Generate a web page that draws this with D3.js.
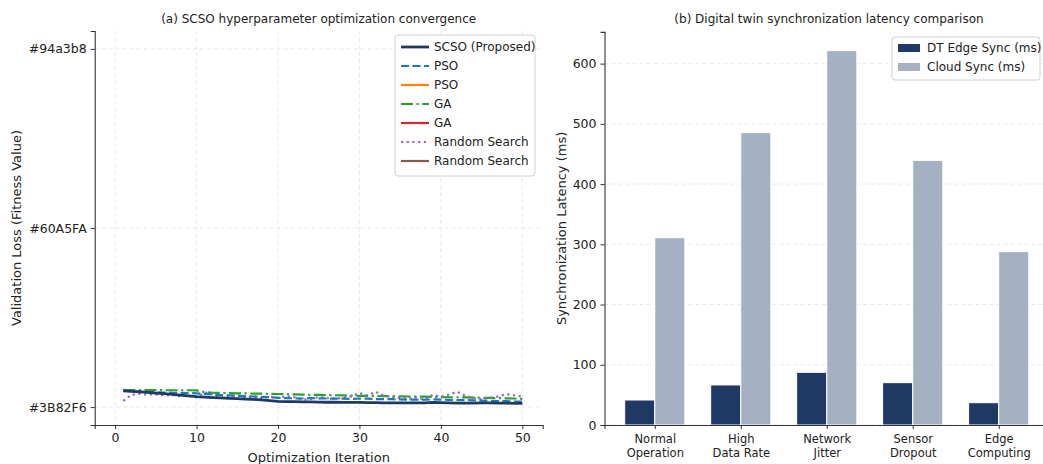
<!DOCTYPE html>
<html>
<head>
<meta charset="utf-8">
<script src="https://cdn.jsdelivr.net/npm/d3@7/dist/d3.min.js"></script>
<style>
  body { margin: 0; background: #fff; }
  svg text { font-family: "DejaVu Sans", sans-serif; fill: #222; }
</style>
</head>
<body>
<div id="chart"></div>
<script>
// DATA ---------------------------------------------------------------
const iterations = d3.range(1, 51);
const yCategoryLabels = ["#3B82F6", "#60A5FA", "#94a3b8"];

const scsoLoss = [0.091, 0.088, 0.085, 0.082, 0.078, 0.075, 0.071, 0.067, 0.063, 0.058,
                  0.056, 0.053, 0.051, 0.049, 0.047, 0.045, 0.043, 0.040, 0.036, 0.032,
                  0.031, 0.030, 0.029, 0.029, 0.028, 0.027, 0.027, 0.026, 0.026, 0.026,
                  0.025, 0.025, 0.024, 0.024, 0.024, 0.023, 0.023, 0.023, 0.026, 0.025,
                  0.024, 0.022, 0.022, 0.022, 0.024, 0.023, 0.022, 0.022, 0.021, 0.021];
const psoLoss = [0.092, 0.089, 0.087, 0.085, 0.083, 0.081, 0.080, 0.079, 0.078, 0.077,
                 0.074, 0.070, 0.067, 0.065, 0.063, 0.061, 0.059, 0.057, 0.055, 0.052,
                 0.050, 0.049, 0.048, 0.050, 0.049, 0.048, 0.047, 0.047, 0.046, 0.048,
                 0.047, 0.045, 0.044, 0.044, 0.043, 0.042, 0.042, 0.041, 0.043, 0.042,
                 0.040, 0.039, 0.039, 0.037, 0.036, 0.035, 0.034, 0.033, 0.031, 0.030];
const gaLoss = [0.095, 0.095, 0.095, 0.095, 0.095, 0.094, 0.094, 0.094, 0.094, 0.093,
                0.084, 0.080, 0.079, 0.078, 0.077, 0.077, 0.075, 0.075, 0.074, 0.073,
                0.072, 0.071, 0.070, 0.069, 0.068, 0.067, 0.066, 0.065, 0.064, 0.063,
                0.063, 0.062, 0.061, 0.061, 0.060, 0.059, 0.058, 0.058, 0.057, 0.056,
                0.055, 0.055, 0.054, 0.053, 0.052, 0.051, 0.050, 0.049, 0.048, 0.046];
const randomLoss = [0.035, 0.068, 0.074, 0.070, 0.071, 0.066, 0.068, 0.060, 0.063, 0.055,
                    0.082, 0.072, 0.050, 0.058, 0.066, 0.052, 0.061, 0.048, 0.058, 0.050,
                    0.062, 0.055, 0.040, 0.046, 0.056, 0.050, 0.047, 0.052, 0.060, 0.078,
                    0.066, 0.086, 0.062, 0.058, 0.050, 0.046, 0.054, 0.042, 0.068, 0.058,
                    0.070, 0.086, 0.064, 0.050, 0.044, 0.052, 0.060, 0.072, 0.066, 0.058];

const scenarios = [["Normal", "Operation"], ["High", "Data Rate"], ["Network", "Jitter"],
                   ["Sensor", "Dropout"], ["Edge", "Computing"]];
const edgeSync = [41.5, 66.5, 87.5, 70.3, 37];
const cloudSync = [311, 485.5, 621.6, 439.5, 287.8];
// DATA ---------------------------------------------------------------

const width = 1043, height = 464;
const navy = "#1f3864";

const svg = d3.select("#chart").append("svg")
    .attr("width", width).attr("height", height);

function styleAxis(g){
    g.selectAll(".domain").attr("stroke", "#333").attr("stroke-width", 1.1);
    g.selectAll(".tick line").attr("stroke", "#333");
    g.selectAll(".tick text").attr("font-size", 12.5).attr("fill", "#222");
}

// LEFT: convergence -----------------------------------------------------
const L = { left: 94.7, right: 542.7, top: 31, bottom: 425 };
const xL = d3.scaleLinear().domain([-2.5, 52.5]).range([L.left, L.right]);
const yL = d3.scaleLinear().domain([-0.1, 2.1]).range([L.bottom, L.top]);

const gridL = svg.append("g").attr("class", "grid-left");
gridL.selectAll(".vx").data([0, 10, 20, 30, 40, 50]).enter().append("line")
    .attr("x1", d => xL(d)).attr("x2", d => xL(d))
    .attr("y1", L.top).attr("y2", L.bottom)
    .attr("stroke", "#e8e8e8").attr("stroke-dasharray", "4,3");
gridL.selectAll(".hy").data([0, 1, 2]).enter().append("line")
    .attr("x1", L.left).attr("x2", L.right)
    .attr("y1", d => yL(d)).attr("y2", d => yL(d))
    .attr("stroke", "#e8e8e8").attr("stroke-dasharray", "4,3");

const seriesL = [
    { label: "SCSO (Proposed)", values: scsoLoss, color: navy, dash: null, w: 2.8 },
    { label: "PSO", values: psoLoss, color: "#1f77b4", dash: "8,3.5", w: 2.2 },
    { label: "PSO", values: [], color: "#ff7f0e", dash: null, w: 2.2 },
    { label: "GA", values: gaLoss, color: "#2ca02c", dash: "12,3.5,2.2,3.5", w: 2.2 },
    { label: "GA", values: [], color: "#d62728", dash: null, w: 2.2 },
    { label: "Random Search", values: randomLoss, color: "#9467bd", dash: "2.2,3.5", w: 2.2 },
    { label: "Random Search", values: [], color: "#8c564b", dash: null, w: 2.2 },
];

const lineL = d3.line().x((d, i) => xL(iterations[i])).y(d => yL(d));
const drawOrder = [3, 5, 1, 0];
drawOrder.forEach(k => {
    const s = seriesL[k];
    svg.append("path").datum(s.values)
        .attr("d", lineL)
        .attr("fill", "none")
        .attr("stroke", s.color)
        .attr("stroke-width", s.w)
        .attr("stroke-dasharray", s.dash);
});

const xAxisL = svg.append("g").attr("transform", `translate(0,${L.bottom})`)
    .call(d3.axisBottom(xL).tickValues([0, 10, 20, 30, 40, 50]).tickSizeOuter(0).tickSize(4).tickPadding(4));
styleAxis(xAxisL);
const yAxisL = svg.append("g").attr("transform", `translate(${L.left},0)`)
    .call(d3.axisLeft(yL).tickValues([0, 1, 2]).tickFormat(d => yCategoryLabels[d]).tickSizeOuter(0).tickSize(4).tickPadding(4));
styleAxis(yAxisL);

svg.append("text").attr("x", (L.left + L.right) / 2).attr("y", 23)
    .attr("text-anchor", "middle").attr("font-size", 12)
    .text("(a) SCSO hyperparameter optimization convergence");
svg.append("text").attr("x", (L.left + L.right) / 2).attr("y", 462)
    .attr("text-anchor", "middle").attr("font-size", 13)
    .text("Optimization Iteration");
svg.append("text").attr("transform", `translate(21,${(L.top + L.bottom) / 2}) rotate(-90)`)
    .attr("text-anchor", "middle").attr("font-size", 13)
    .text("Validation Loss (Fitness Value)");

const legL = svg.append("g").attr("transform", "translate(395,35)");
legL.append("rect").attr("width", 140).attr("height", 141).attr("rx", 3)
    .attr("fill", "#fff").attr("fill-opacity", 0.85).attr("stroke", "#d0d0d0");
seriesL.forEach((s, i) => {
    const y = 12 + i * 19;
    legL.append("line").attr("x1", 6).attr("x2", 34).attr("y1", y).attr("y2", y)
        .attr("stroke", s.color).attr("stroke-width", s.w).attr("stroke-dasharray", s.dash);
    legL.append("text").attr("x", 39).attr("y", y + 4.4).attr("font-size", 12).text(s.label);
});

// RIGHT: latency bars ---------------------------------------------------
const R = { left: 604.5, right: 1049, top: 31.9, bottom: 425 };
const xR = d3.scaleLinear().domain([-0.585, 4.585]).range([R.left, R.right]);
const yR = d3.scaleLinear().domain([0, 652.7]).range([R.bottom, R.top]);
const barW = 0.35;

svg.append("g").selectAll("line").data(d3.range(0, 700, 100)).enter().append("line")
    .attr("x1", R.left).attr("x2", width)
    .attr("y1", d => yR(d)).attr("y2", d => yR(d))
    .attr("stroke", "#e8e8e8").attr("stroke-dasharray", "4,3");

svg.append("g").selectAll("rect").data(edgeSync).enter().append("rect")
    .attr("x", (d, i) => xR(i - barW))
    .attr("width", xR(barW) - xR(0))
    .attr("y", d => yR(d))
    .attr("height", d => yR(0) - yR(d))
    .attr("fill", navy).attr("stroke", "#fff").attr("stroke-width", 1);
svg.append("g").selectAll("rect").data(cloudSync).enter().append("rect")
    .attr("x", (d, i) => xR(i))
    .attr("width", xR(barW) - xR(0))
    .attr("y", d => yR(d))
    .attr("height", d => yR(0) - yR(d))
    .attr("fill", "#94a3b8").attr("fill-opacity", 0.85).attr("stroke", "#fff").attr("stroke-width", 1);

const xAxisR = svg.append("g").attr("transform", `translate(0,${R.bottom})`)
    .call(d3.axisBottom(xR).tickValues(d3.range(scenarios.length)).tickFormat("").tickSizeOuter(0).tickSize(4));
styleAxis(xAxisR);
xAxisR.selectAll(".tick").each(function(d){
    const t = d3.select(this).append("text").attr("text-anchor", "middle")
        .attr("font-size", 11.5).attr("fill", "#222");
    scenarios[d].forEach((line, j) => {
        t.append("tspan").attr("x", 0).attr("y", 18 + j * 14).text(line);
    });
});
const yAxisR = svg.append("g").attr("transform", `translate(${R.left},0)`)
    .call(d3.axisLeft(yR).tickValues(d3.range(0, 700, 100)).tickSizeOuter(0).tickSize(4).tickPadding(4));
styleAxis(yAxisR);

svg.append("text").attr("x", 829).attr("y", 23)
    .attr("text-anchor", "middle").attr("font-size", 12)
    .text("(b) Digital twin synchronization latency comparison");
svg.append("text").attr("transform", `translate(566,${(R.top + R.bottom) / 2}) rotate(-90)`)
    .attr("text-anchor", "middle").attr("font-size", 13)
    .text("Synchronization Latency (ms)");

const legR = svg.append("g").attr("transform", "translate(892,37)");
legR.append("rect").attr("width", 148).attr("height", 43).attr("rx", 3)
    .attr("fill", "#fff").attr("fill-opacity", 0.85).attr("stroke", "#d0d0d0");
[{ label: "DT Edge Sync (ms)", color: navy, op: 1 },
 { label: "Cloud Sync (ms)", color: "#94a3b8", op: 0.85 }].forEach((s, i) => {
    const y = 11 + i * 19;
    legR.append("rect").attr("x", 6).attr("y", y - 4).attr("width", 22).attr("height", 8)
        .attr("fill", s.color).attr("fill-opacity", s.op);
    legR.append("text").attr("x", 35).attr("y", y + 4.3).attr("font-size", 12).text(s.label);
});
</script>
</body>
</html>
